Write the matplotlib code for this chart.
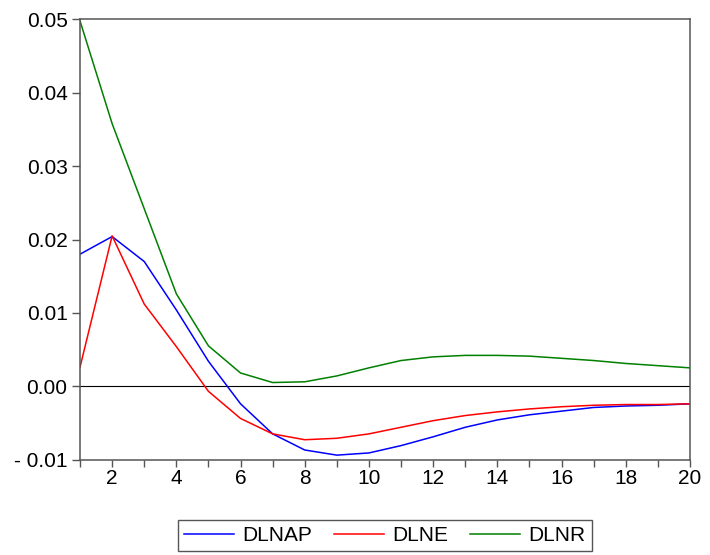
import matplotlib.pyplot as plt
from matplotlib.ticker import MultipleLocator, FuncFormatter

# periode respon (1..20)
periods = list(range(1, 21))

dlnap = [0.0180, 0.0204, 0.0170, 0.0104, 0.0034, -0.0024, -0.0065, -0.0087, -0.0094, -0.0091,
         -0.0081, -0.0069, -0.0056, -0.0046, -0.0039, -0.0034, -0.0029, -0.0027, -0.0026, -0.0024]
dlne = [0.0026, 0.0205, 0.0112, 0.0054, -0.0007, -0.0044, -0.0065, -0.0073, -0.0071, -0.0065,
        -0.0056, -0.0047, -0.0040, -0.0035, -0.0031, -0.0028, -0.0026, -0.0025, -0.0025, -0.0024]
dlnr = [0.0498, 0.0358, 0.0242, 0.0126, 0.0055, 0.0018, 0.0005, 0.0006, 0.0014, 0.0025,
        0.0035, 0.0040, 0.0042, 0.0042, 0.0041, 0.0038, 0.0035, 0.0031, 0.0028, 0.0025]

series_names = ["DLNAP", "DLNE", "DLNR"]
colors = ["#0000ff", "#ff0000", "#008000"]

plt.rcParams['font.family'] = ['Liberation Sans', 'DejaVu Sans']

fig = plt.figure(figsize=(7.1, 5.55), dpi=100)
ax = fig.add_axes([0.1127, 0.172, 0.8591, 0.7929])

for vals, name, c in zip([dlnap, dlne, dlnr], series_names, colors):
    ax.plot(periods, vals, color=c, lw=1.1, label=name)

ax.axhline(0, color='black', lw=0.8, zorder=1)

ax.set_xlim(1, 20)
ax.set_ylim(-0.01, 0.05)
ax.xaxis.set_major_locator(MultipleLocator(2))
ax.xaxis.set_minor_locator(MultipleLocator(1))
ax.yaxis.set_major_locator(MultipleLocator(0.01))
ax.yaxis.set_major_formatter(FuncFormatter(lambda v, p: ("%.2f" % v).replace("-", "- ")))

for s in ax.spines.values():
    s.set_color('#555555')
    s.set_linewidth(1.1)
ax.tick_params(axis='both', which='both', direction='out', color='#555555', width=1.0,
               labelsize=15, labelcolor='black')
ax.tick_params(axis='y', length=6, pad=3)
ax.tick_params(axis='x', which='both', length=5, pad=2)

fig.legend(loc='lower center', bbox_to_anchor=(0.542, 0.003), ncol=3, fontsize=15,
           fancybox=False, edgecolor='#555555', framealpha=1, handlelength=2.4,
           handletextpad=0.4, columnspacing=1.05, borderpad=0.3, borderaxespad=0.1)

fig.savefig('out.png', dpi=100)
